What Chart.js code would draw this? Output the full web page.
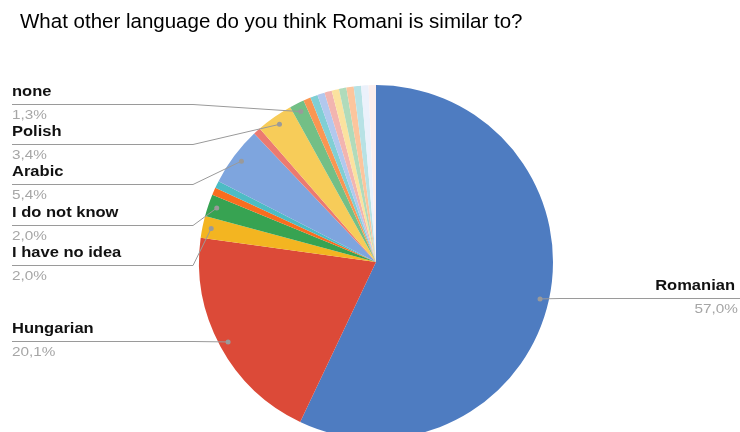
<!DOCTYPE html>
<html>
<head>
<meta charset="utf-8">
<script src="https://cdn.jsdelivr.net/npm/chart.js@4"></script>
<style>
  html, body { margin: 0; padding: 0; background: #fff; overflow: hidden; }
  #wrap { position: relative; width: 740px; height: 460px; }
</style>
</head>
<body>
<div id="wrap"><canvas id="pie" width="740" height="460"></canvas></div>
<script>
// Survey answers, clockwise from 12 o'clock
const chartTitle = 'What other language do you think Romani is similar to?';
const categories = [
  'Romanian', 'Hungarian', 'I have no idea', 'I do not know', 'Other answer 1',
  'Other answer 2', 'Arabic', 'Other answer 3', 'Polish', 'none',
  'Other answer 4', 'Other answer 5', 'Other answer 6', 'Other answer 7', 'Other answer 8',
  'Other answer 9', 'Other answer 10', 'Other answer 11', 'Other answer 12', 'Other answer 13'
];
const responses = [85, 30, 3, 3, 1, 1, 8, 1, 5, 2, 1, 1, 1, 1, 1, 1, 1, 1, 1, 1];
const sliceColors = [
  '#4e7cc1', '#dc4a38', '#f3b521', '#37a352', '#f96d1f',
  '#4dbcc4', '#7ea5de', '#ec7a70', '#f7cc59', '#73bf86',
  '#fa9652', '#80cfd4', '#b2c8ee', '#f2b5b0', '#fbe29f',
  '#b0dbbb', '#fcc59d', '#b7e2e5', '#ebf1fb', '#fbeeed'
];

// where each labelled slice gets its callout (y of the underline)
const callouts = {
  'none':           { side: 'left',  y: 104 },
  'Polish':         { side: 'left',  y: 144 },
  'Arabic':         { side: 'left',  y: 184 },
  'I do not know':  { side: 'left',  y: 225 },
  'I have no idea': { side: 'left',  y: 265 },
  'Hungarian':      { side: 'left',  y: 341 },
  'Romanian':       { side: 'right', y: 298 }
};

const total = responses.reduce((a, b) => a + b, 0);
const pct = v => (v / total * 100).toFixed(1).replace('.', ',') + '%';

// callout text is drawn a bit wide
const STRETCH = 1.18;
function wideText(ctx, text, x, y, align) {
  ctx.save();
  ctx.translate(x, y);
  ctx.scale(STRETCH, 1);
  ctx.textAlign = align;
  ctx.fillText(text, 0, 0);
  ctx.restore();
}

const calloutPlugin = {
  id: 'callouts',
  afterDraw(chart) {
    const ctx = chart.ctx;
    const meta = chart.getDatasetMeta(0);
    ctx.save();

    // title
    ctx.fillStyle = '#000';
    ctx.font = '20.5px "Liberation Sans", Arial, sans-serif';
    ctx.textBaseline = 'middle';
    ctx.textAlign = 'left';
    ctx.fillText(chartTitle, 20, 22);

    categories.forEach((name, i) => {
      const c = callouts[name];
      if (!c) return;
      const arc = meta.data[i];
      const mid = (arc.startAngle + arc.endAngle) / 2;
      const r = arc.outerRadius * 0.95;
      const dx = arc.x + Math.cos(mid) * r;
      const dy = arc.y + Math.sin(mid) * r;

      ctx.strokeStyle = '#9a9a9a';
      ctx.lineWidth = 1;
      ctx.beginPath();
      if (c.side === 'left') {
        ctx.moveTo(12, c.y + 0.5);
        ctx.lineTo(Math.min(193, dx), c.y + 0.5);
      } else {
        ctx.moveTo(740, c.y + 0.5);
        ctx.lineTo(Math.max(560, dx), c.y + 0.5);
      }
      ctx.lineTo(dx, dy);
      ctx.stroke();

      ctx.fillStyle = '#9a9a9a';
      ctx.beginPath();
      ctx.arc(dx, dy, 2.5, 0, Math.PI * 2);
      ctx.fill();

      const left = c.side === 'left';
      ctx.fillStyle = '#111';
      ctx.font = 'bold 14px "Liberation Sans", Arial, sans-serif';
      wideText(ctx, name, left ? 12 : 735, c.y - 12, left ? 'left' : 'right');
      ctx.fillStyle = '#a6a6a6';
      ctx.font = '13px "Liberation Sans", Arial, sans-serif';
      wideText(ctx, pct(responses[i]), left ? 12 : 738, c.y + 11, left ? 'left' : 'right');
    });
    ctx.restore();
  }
};

new Chart(document.getElementById('pie'), {
  type: 'pie',
  data: {
    labels: categories,
    datasets: [{
      data: responses,
      backgroundColor: sliceColors,
      borderWidth: 0
    }]
  },
  options: {
    responsive: false,
    animation: false,
    layout: { padding: { top: 85, left: 199, right: 187, bottom: 21 } },
    plugins: {
      legend: { display: false },
      tooltip: { enabled: false }
    }
  },
  plugins: [calloutPlugin]
});
</script>
</body>
</html>
